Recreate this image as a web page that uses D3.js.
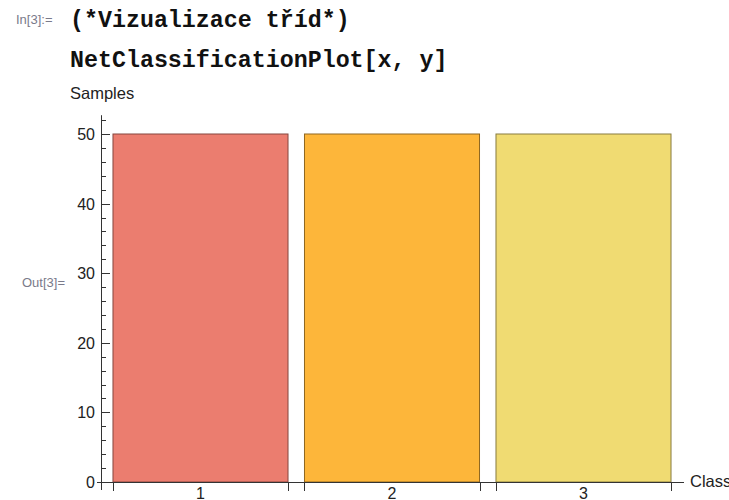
<!DOCTYPE html>
<html><head><meta charset="utf-8">
<script src="https://cdn.jsdelivr.net/npm/d3@7"></script>
<style>body{margin:0;background:#fff;}svg{display:block;}</style>
</head><body>
<svg id="c" width="729" height="500"></svg>
<script>
const categories = ["1", "2", "3"];
const samples = [50, 50, 50];
const barColors = ["#EB7D6F", "#FDB63A", "#F0DB72"];
const yMajorTicks = [0, 10, 20, 30, 40, 50];
const yMinorTicks = [2,4,6,8,12,14,16,18,22,24,26,28,32,34,36,38,42,44,46,48,52];

const svg = d3.select("#c");
const font = "Liberation Sans, Arial, sans-serif";
const mono = "Liberation Mono, Courier New, monospace";

// notebook text
svg.append("text").attr("x", 16).attr("y", 24).attr("font-family", font).attr("font-size", 13)
  .attr("fill", "#7a7a8a").text("In[3]:=");
svg.append("text").attr("x", 70).attr("y", 27).attr("font-family", mono).attr("font-weight", "bold")
  .attr("font-size", 23.3).attr("fill", "#111").text("(*Vizualizace tříd*)");
svg.append("text").attr("x", 70).attr("y", 67).attr("font-family", mono).attr("font-weight", "bold")
  .attr("font-size", 23.3).attr("fill", "#111").text("NetClassificationPlot[x, y]");
svg.append("text").attr("x", 70).attr("y", 99).attr("font-family", font).attr("font-size", 16.5)
  .attr("fill", "#222").text("Samples");
svg.append("text").attr("x", 22).attr("y", 287).attr("font-family", font).attr("font-size", 13)
  .attr("fill", "#7a7a8a").text("Out[3]=");

const y = d3.scaleLinear().domain([0, 50]).range([482, 134]);
const idx = categories.map((d, i) => i + 1);
const x = d3.scaleLinear().domain([0.5, 3.5]).range([104.75, 679.25]);
const half = 0.457;
const axisX = 101;

// bars
svg.append("g").selectAll("rect").data(samples).join("rect")
  .attr("x", (d, i) => x(idx[i] - half))
  .attr("width", (d, i) => x(idx[i] + half) - x(idx[i] - half))
  .attr("y", d => y(d))
  .attr("height", d => y(0) - y(d))
  .attr("fill", (d, i) => barColors[i])
  .attr("stroke", (d, i) => d3.color(barColors[i]).darker(1.6))
  .attr("stroke-width", 1);

const axisColor = "#333";
// y axis line
svg.append("line").attr("x1", axisX + 0.5).attr("x2", axisX + 0.5)
  .attr("y1", y(52.7)).attr("y2", y(0) + 8).attr("stroke", axisColor);
// x axis line
svg.append("line").attr("x1", 97).attr("x2", 684)
  .attr("y1", y(0) + 0.5).attr("y2", y(0) + 0.5).attr("stroke", axisColor);

// y ticks
svg.append("g").selectAll("line.maj").data(yMajorTicks).join("line")
  .attr("x1", axisX).attr("x2", axisX + 9)
  .attr("y1", d => Math.round(y(d)) + 0.5).attr("y2", d => Math.round(y(d)) + 0.5)
  .attr("stroke", axisColor);
svg.append("g").selectAll("line.min").data(yMinorTicks).join("line")
  .attr("x1", axisX).attr("x2", axisX + 5)
  .attr("y1", d => Math.round(y(d)) + 0.5).attr("y2", d => Math.round(y(d)) + 0.5)
  .attr("stroke", axisColor);
svg.append("g").selectAll("text").data(yMajorTicks).join("text")
  .attr("x", 95).attr("y", d => y(d) + 6)
  .attr("text-anchor", "end").attr("font-family", font).attr("font-size", 16)
  .attr("fill", "#222").text(d => d);

// x ticks at bar edges
const edges = idx.flatMap(k => [k - half, k + half]);
svg.append("g").selectAll("line").data(edges).join("line")
  .attr("x1", d => Math.round(x(d)) + 0.5).attr("x2", d => Math.round(x(d)) + 0.5)
  .attr("y1", y(0)).attr("y2", y(0) + 9)
  .attr("stroke", axisColor);
svg.append("g").selectAll("text").data(categories).join("text")
  .attr("x", (d, i) => x(idx[i])).attr("y", 499)
  .attr("text-anchor", "middle").attr("font-family", font).attr("font-size", 16)
  .attr("fill", "#222").text(d => d);

svg.append("text").attr("x", 690).attr("y", 487).attr("font-family", font).attr("font-size", 16.5)
  .attr("fill", "#222").text("Class");
</script>
</body></html>
